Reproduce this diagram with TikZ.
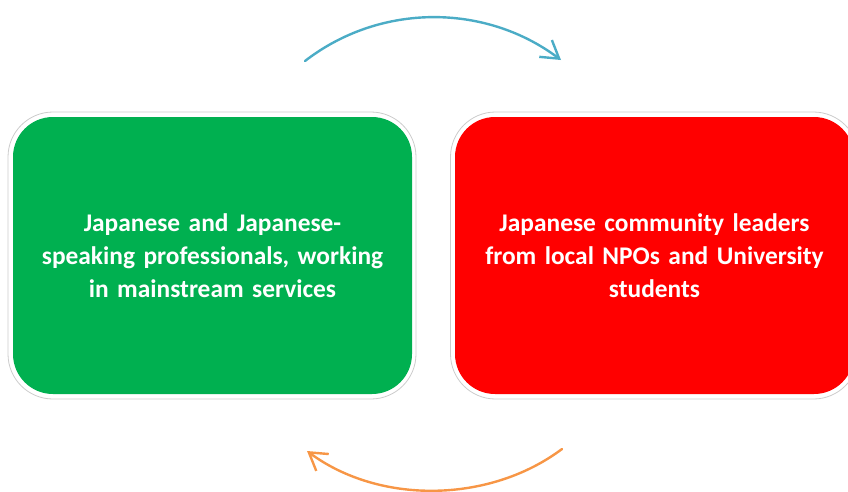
\documentclass[tikz,border=0pt]{standalone}
\usepackage{fontspec}
\setmainfont{Carlito}
\usetikzlibrary{arrows.meta}
\definecolor{boxgreen}{HTML}{00B050}
\definecolor{boxred}{HTML}{FF0000}
\definecolor{arrblue}{HTML}{4BACC6}
\definecolor{arrorange}{HTML}{F79646}
\tikzset{
  frame/.style={draw=black!20, line width=0.8pt, fill=white, rounded corners=45pt,
    minimum width=408pt, minimum height=287pt, inner sep=0pt},
  panel/.style={rounded corners=40pt, minimum width=399pt, minimum height=277pt,
    inner sep=0pt, text=white, align=center, text width=395pt,
    font=\fontsize{25.4}{33}\selectfont\bfseries},
  cyc/.style={line width=2.4pt, line cap=round,
    -{Straight Barb[length=17pt,width=21pt,line width=2.4pt]}}
}
\begin{document}
\begin{tikzpicture}[x=1pt,y=-1pt]
\useasboundingbox (0,0) rectangle (848,491);
\begin{scope}
\clip (0,0) rectangle (848,491);
\node[frame] (gframe) at (212,255.5) {};
\node[panel, fill=boxgreen] (green) at (212.5,255.5)
  {Japanese and Japanese-\\speaking professionals, working\\in mainstream services};
\node[frame] (rframe) at (654.5,255.5) {};
\node[panel, fill=boxred] (red) at (654.5,255.5)
  {Japanese community leaders\\from local NPOs and University\\students};
\end{scope}
\coordinate (ts) at (305,61);
\coordinate (te) at (561,60);
\coordinate (bs) at (562,449);
\coordinate (be) at (307,451);
\draw[cyc, arrblue] (ts) .. controls (380,3) and (485,3) .. (te);
\draw[cyc, arrorange] (bs) .. controls (490,503) and (380,505) .. (be);
\end{tikzpicture}
\end{document}
